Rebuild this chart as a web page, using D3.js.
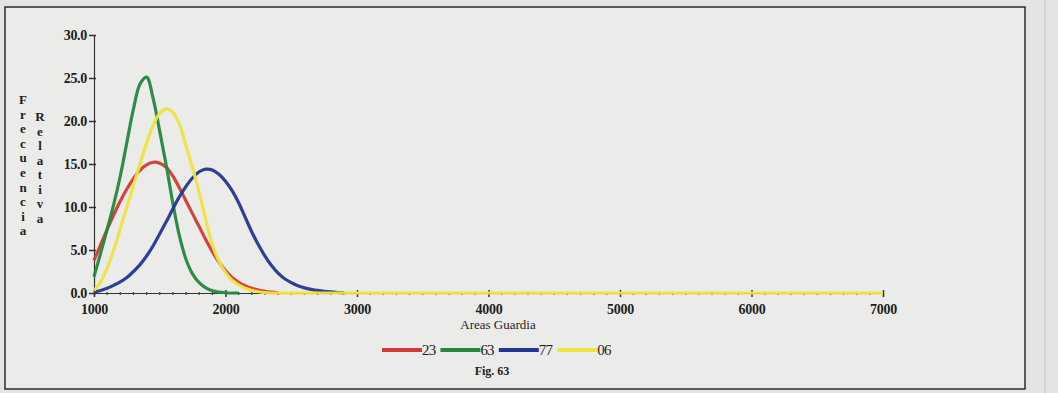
<!DOCTYPE html>
<html><head><meta charset="utf-8">
<script src="https://cdn.jsdelivr.net/npm/d3@7"></script>
<style>html,body{margin:0;padding:0;background:#e4e4e2;} svg{display:block;}</style>
</head><body><svg id="c" width="1058" height="393"></svg>
<script>
// ---- data ----
const xGrid = d3.range(1000, 2901, 50); // sampling positions (Areas Guardia)
const serie23 = [3.8,5.6,7.4,9.1,10.7,12.1,13.3,14.3,14.9,15.2,15.1,14.6,13.6,12.2,10.7,9.2,7.7,6.2,4.8,3.6,2.6,1.8,1.25,0.85,0.55,0.35,0.2,0.1,0.03,
  null,null,null,null,null,null,null,null,null,null];
const serie63 = [1.9,4.6,7.4,10.3,13.6,17.5,21.4,24.3,25.1,22.6,18.8,14.8,10.4,6.6,3.9,2.2,1.2,0.6,0.25,0.1,0.03,0,0,
  null,null,null,null,null,null,null,null,null,null,null,null,null,null,null,null];
const serie77 = [0.1,0.3,0.55,0.9,1.3,1.8,2.5,3.3,4.3,5.5,6.9,8.3,9.8,11.2,12.4,13.4,14.1,14.4,14.3,13.8,13.0,11.9,10.5,8.8,7.1,5.6,4.3,3.2,2.3,1.65,1.2,0.85,0.6,0.42,0.3,0.2,0.12,0.06,0.02];
const serie06 = [0.3,1.3,2.9,5.0,7.5,10.0,12.5,15.0,17.4,19.5,20.9,21.4,21.0,19.6,17.1,14.5,11.7,8.5,5.6,3.7,2.4,1.5,0.95,0.55,0.3,0.15,0.05,0,0,0,0,0,0,0,0,0,0,0,0];
const tail06X = [3000,4000,5000,6000,7000];
const tail06Y = [0,0,0,0,0];
const seriesNames = ["23","63","77","06"];
const seriesColors = ["#cf3b36","#22893d","#24368f","#f0e33e"];
const xTicks = [1000,2000,3000,4000,5000,6000,7000];
const xMinor = d3.range(1000, 7001, 100);
const yTicks = [0,5,10,15,20,25,30];
const xTitle = "Areas Guardia";
const yTitle1 = "Frecuencia";
const yTitle2 = "Relativa";
const figLabel = "Fig. 63";

// ---- drawing ----
const svg = d3.select("#c");
const serif = "'Liberation Serif','Times New Roman',serif";

svg.append("rect").attr("x",5).attr("y",7).attr("width",1020).attr("height",382)
  .attr("fill","#ebebe9").attr("stroke","#2b2b2b").attr("stroke-width",1.5);
svg.append("line").attr("x1",1045).attr("x2",1045).attr("y1",0).attr("y2",393)
  .attr("stroke","#d2d2d0").attr("stroke-width",2);

const x = d3.scaleLinear().domain([1000,7000]).range([94,883]);
const y = d3.scaleLinear().domain([0,30]).range([293,35]);

// y axis
const yAx = svg.append("g").attr("transform","translate(94,0)")
  .call(d3.axisLeft(y).tickValues(yTicks).tickFormat(d3.format(".1f")).tickSize(4).tickPadding(3));
yAx.select(".domain").attr("stroke","#333").attr("stroke-width",1.2);
yAx.selectAll(".tick line").attr("stroke","#333").attr("stroke-width",1.5).attr("x2",-5).attr("x1",2);
yAx.selectAll(".tick text").attr("font-family",serif).attr("font-size",14).attr("font-weight","bold")
  .attr("fill","#1d1d1d").attr("letter-spacing","-0.3");

// x axis
const xAx = svg.append("g").attr("transform","translate(0,293)")
  .call(d3.axisBottom(x).tickValues(xTicks).tickFormat(d3.format("d")).tickSize(4).tickPadding(7));
xAx.select(".domain").attr("stroke","#333").attr("stroke-width",1.2);
xAx.selectAll(".tick line").attr("stroke","#333").attr("stroke-width",1.5).attr("y1",-3).attr("y2",4);
xAx.selectAll(".tick text").attr("font-family",serif).attr("font-size",14).attr("font-weight","bold")
  .attr("fill","#1d1d1d").attr("letter-spacing","-0.3");
svg.append("g").selectAll("line").data(xMinor.filter(v => !xTicks.includes(v))).join("line")
  .attr("x1",d=>x(d)).attr("x2",d=>x(d)).attr("y1",292).attr("y2",295)
  .attr("stroke","#444").attr("stroke-width",1.3);

// curves
const line = d3.line().defined(d => d[1] != null)
  .x(d => x(d[0])).y(d => Math.min(y(0), y(d[1]))).curve(d3.curveCatmullRom.alpha(0.5));
const allSeries = [serie23, serie63, serie77, serie06];
allSeries.forEach((s, i) => {
  let pts = xGrid.map((xv, j) => [xv, s[j]]);
  if (i === 3) pts = pts.concat(tail06X.map((xv, j) => [xv, tail06Y[j]]));
  svg.append("path").datum(pts).attr("d", line).attr("fill","none")
    .attr("stroke", seriesColors[i]).attr("stroke-width",3.2).attr("stroke-linejoin","round")
    .attr("opacity",0.95);
});

// axis titles
svg.append("text").attr("x",498).attr("y",329).attr("text-anchor","middle")
  .attr("font-family",serif).attr("font-size",13).attr("fill","#1d1d1d").text(xTitle);
yTitle1.split("").forEach((ch, i) => {
  svg.append("text").attr("x",23).attr("y",104 + i*14.6).attr("text-anchor","middle")
    .attr("font-family",serif).attr("font-size",13).attr("font-weight","bold").attr("fill","#1d1d1d").text(ch);
});
yTitle2.split("").forEach((ch, i) => {
  svg.append("text").attr("x",40).attr("y",121 + i*14.5).attr("text-anchor","middle")
    .attr("font-family",serif).attr("font-size",13).attr("font-weight","bold").attr("fill","#1d1d1d").text(ch);
});

// legend
const leg = svg.append("g");
let lx = 382;
seriesNames.forEach((n, i) => {
  leg.append("line").attr("x1",lx).attr("x2",lx+40).attr("y1",350).attr("y2",350)
    .attr("stroke",seriesColors[i]).attr("stroke-width",4);
  const t = leg.append("text").attr("x",lx+40).attr("y",355).attr("font-family",serif)
    .attr("font-size",15).attr("fill","#1d1d1d").attr("letter-spacing","-0.8").text(n);
  lx += 40 + t.node().getComputedTextLength() + 5;
});
svg.append("text").attr("x",492).attr("y",375).attr("text-anchor","middle")
  .attr("font-family",serif).attr("font-size",12).attr("font-weight","bold").attr("fill","#1d1d1d").text(figLabel);
</script>
</body></html>
